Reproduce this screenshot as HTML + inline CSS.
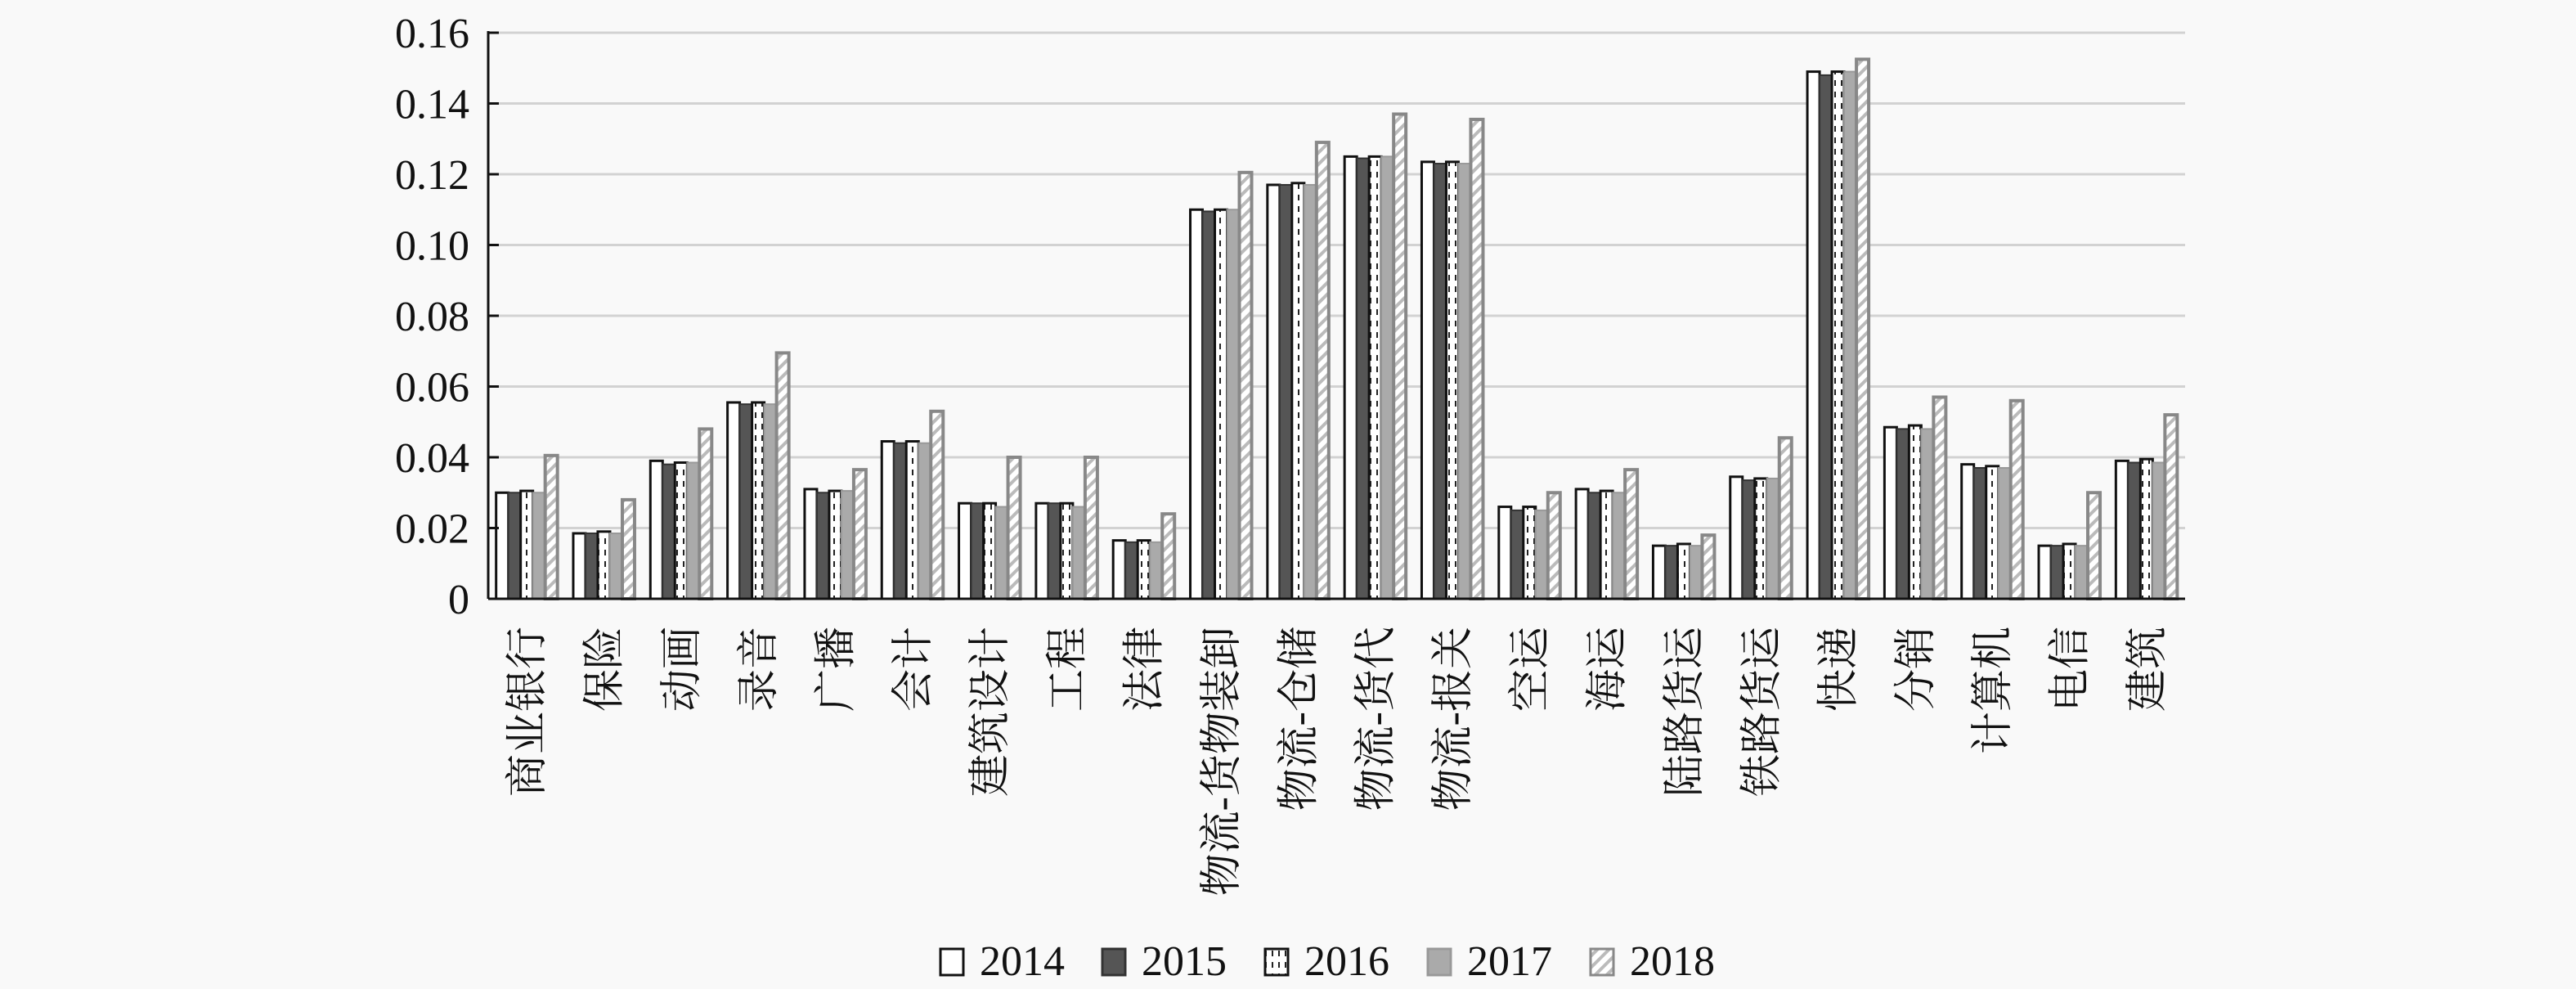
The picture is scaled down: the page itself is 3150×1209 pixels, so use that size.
<!DOCTYPE html>
<html><head><meta charset="utf-8">
<style>
html,body{margin:0;padding:0;background:#f9f9f9;}
svg{display:block;font-family:"Liberation Serif","Noto Serif CJK SC","Noto Sans CJK SC",serif;}
</style></head>
<body>
<svg id="chart" width="3150" height="1209" viewBox="0 0 3150 1209" xmlns="http://www.w3.org/2000/svg">
<defs>
<pattern id="p2016" width="8" height="14" patternUnits="userSpaceOnUse">
<rect width="8" height="14" fill="#fff"/>
<rect x="3" y="0" width="2" height="7" fill="#222"/>
</pattern>
<pattern id="p2018" width="10" height="10" patternUnits="userSpaceOnUse" patternTransform="rotate(45)">
<rect width="10" height="10" fill="#fff"/>
<rect x="0" y="0" width="4" height="10" fill="#bbb"/>
</pattern>
</defs>
<rect width="3150" height="1209" fill="#f9f9f9"/>
<g id="grid"></g>
<g id="bars"></g>
<g id="axes"></g>
<g id="labels"></g>
<g id="legend"></g>
</svg>
<script>
const categories = ["商业银行","保险","动画","录音","广播","会计","建筑设计","工程","法律","物流-货物装卸","物流-仓储","物流-货代","物流-报关","空运","海运","陆路货运","铁路货运","快递","分销","计算机","电信","建筑"];
const years = ["2014","2015","2016","2017","2018"];
const s2014 = [0.030,0.0185,0.039,0.0555,0.031,0.0445,0.027,0.027,0.0165,0.110,0.117,0.125,0.1235,0.026,0.031,0.015,0.0345,0.149,0.0485,0.038,0.015,0.039];
const s2015 = [0.030,0.0185,0.038,0.055,0.030,0.044,0.027,0.027,0.016,0.1095,0.117,0.1245,0.123,0.025,0.030,0.015,0.0335,0.148,0.048,0.037,0.015,0.0385];
const s2016 = [0.0305,0.019,0.0385,0.0555,0.0305,0.0445,0.027,0.027,0.0165,0.110,0.1175,0.125,0.1235,0.026,0.0305,0.0155,0.034,0.149,0.049,0.0375,0.0155,0.0395];
const s2017 = [0.030,0.0185,0.0385,0.055,0.0305,0.044,0.026,0.026,0.016,0.110,0.117,0.125,0.123,0.025,0.030,0.015,0.034,0.149,0.048,0.037,0.015,0.0385];
const s2018 = [0.0405,0.028,0.048,0.0695,0.0365,0.053,0.040,0.040,0.024,0.1205,0.129,0.137,0.1355,0.030,0.0365,0.018,0.0455,0.1525,0.057,0.056,0.030,0.052];
const yTicks = [0,0.02,0.04,0.06,0.08,0.10,0.12,0.14,0.16];
const yTickLabels = ["0","0.02","0.04","0.06","0.08","0.10","0.12","0.14","0.16"];

const NS="http://www.w3.org/2000/svg";
const X0=597, X1=2672, Y0=732, YT=40, YMAX=0.16;
const catW=(X1-X0)/categories.length;
const barW=15;
function y(v){return Y0-(v/YMAX)*(Y0-YT);}
function xCat(i){return X0+catW*(i+0.5);}
function mk(tag,attrs,parent){const e=document.createElementNS(NS,tag);for(const k in attrs)e.setAttribute(k,attrs[k]);parent.appendChild(e);return e;}
const series=[s2014,s2015,s2016,s2017,s2018];
const styles=[
 {fill:"#ffffff",stroke:"#111",sw:3},
 {fill:"#555555",stroke:"#333",sw:2},
 {fill:"url(#p2016)",stroke:"#111",sw:3},
 {fill:"#aaaaaa",stroke:"#999",sw:2},
 {fill:"url(#p2018)",stroke:"#888",sw:4}
];
const grid=document.getElementById('grid');
yTicks.forEach((t,i)=>{
  if(i>0){const l=mk('line',{x1:X0,x2:X1,y1:y(t),y2:y(t),stroke:"#d2d2d2","stroke-width":3},grid);
  
  }
});
const bars=document.getElementById('bars');
categories.forEach((c,i)=>{
  const g=mk('g',{},bars);
  
  
  const start=xCat(i)-barW*2.5;
  series.forEach((s,k)=>{
    const st=styles[k];
    const r=mk('rect',{x:start+k*barW,y:y(s[i]),width:barW,height:Y0-y(s[i]),fill:st.fill,stroke:st.stroke,"stroke-width":st.sw},g);
    
    
  });
});
const axes=document.getElementById('axes');
const ya=mk('line',{x1:X0,x2:X0,y1:YT-2,y2:Y0,stroke:"#111","stroke-width":3},axes);


const xa=mk('line',{x1:X0,x2:X1,y1:Y0,y2:Y0,stroke:"#111","stroke-width":3},axes);


yTicks.forEach((t,i)=>{
  const tk=mk('line',{x1:X0,x2:X0+13,y1:y(t),y2:y(t),stroke:"#111","stroke-width":3},axes);
  
  
  const tx=mk('text',{x:574,y:y(t)+18,"text-anchor":"end","font-size":52,fill:"#111"},axes);
  tx.textContent=yTickLabels[i];
  
  
});
const labels=document.getElementById('labels');
categories.forEach((c,i)=>{
  const cx=xCat(i)+18, ty=766;
  const t=mk('text',{x:cx,y:ty,"text-anchor":"end","font-size":52,fill:"#111",transform:`rotate(-90 ${cx} ${ty})`},labels);
  t.textContent=c;
  
  
});
const legend=document.getElementById('legend');
const legX=[1150,1348,1547,1746,1945];
years.forEach((yr,k)=>{
  const st=styles[k];
  const g=mk('g',{},legend);
  
  
  mk('rect',{x:legX[k],y:1160,width:28,height:32,fill:st.fill,stroke:st.stroke,"stroke-width":3},g);
  const t=mk('text',{x:legX[k]+48,y:1192,"font-size":52,fill:"#111"},g);
  t.textContent=yr;
  
  
});
</script>
</body></html>
